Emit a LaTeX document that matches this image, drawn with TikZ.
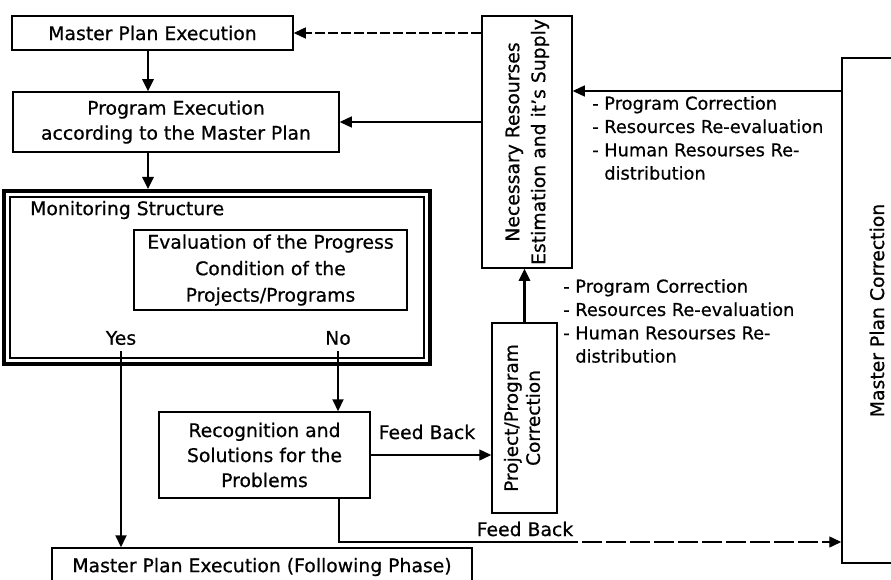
\documentclass[tikz,border=0pt]{standalone}
\usepackage{fontspec}
\setmainfont[FakeBold=0.6]{DejaVu Sans}
\usetikzlibrary{arrows.meta}
\begin{document}
\begin{tikzpicture}[x=1pt,y=-1pt,
  box/.style={draw, line width=1.5pt, inner sep=0pt, align=center, font=\fontsize{18.8}{25}\selectfont},
  tip/.style={-{Triangle[length=12pt,width=11pt]}},
  arr/.style={line width=1.4pt, tip},
  thickarr/.style={line width=2.6pt, tip},
  lbl/.style={inner sep=0pt, font=\fontsize{18.8}{25}\selectfont},
  lst/.style={inner sep=0pt, align=left, anchor=west, font=\fontsize{17.8}{23.3}\selectfont}]
\useasboundingbox (0,0) rectangle (891,580);
\fill[white] (0,0) rectangle (891,580);

% boxes
\node[box, minimum width=281pt, minimum height=34pt] (mpe) at (152.5,33) {Master Plan Execution};
\node[box, minimum width=326pt, minimum height=60pt] (pe) at (176,122) {Program Execution\\according to the Master Plan};
\node[draw, line width=4pt, minimum width=426pt, minimum height=173pt, inner sep=0pt] (mon) at (217,277.5) {};
\node[draw, line width=1.2pt, minimum width=414pt, minimum height=161pt, inner sep=0pt] (moni) at (mon.center) {};
\node[lbl, anchor=west] (monlbl) at (30,210) {Monitoring Structure};
\node[box, font=\fontsize{18.8}{26.5}\selectfont, minimum width=273pt, minimum height=80pt] (eval) at (270.5,270) {Evaluation of the Progress\\Condition of the\\Projects/Programs};
\node[lbl, inner ysep=6pt] (yes) at (121,338) {Yes};
\node[lbl, inner ysep=6pt] (no) at (338,338) {No};
\node[box, minimum width=211pt, minimum height=86pt] (rec) at (264.5,455) {Recognition and\\Solutions for the\\Problems};
\node[box, minimum width=420pt, minimum height=38pt] (fin) at (262,567) {Master Plan Execution (Following Phase)};
\node[box, minimum width=65pt, minimum height=190pt] (ppc) at (524.5,418)
  {\rotatebox{90}{\fontsize{18.5}{22}\selectfont\begin{tabular}{@{}c@{}}Project/Program\\Correction\end{tabular}}};
\node[box, minimum width=90pt, minimum height=252pt] (nec) at (527,142)
  {\rotatebox{90}{\fontsize{18.8}{26}\selectfont\begin{tabular}{@{}c@{}}Necessary Resourses\\Estimation and it's Supply\end{tabular}}};
\node[box, minimum width=70pt, minimum height=505pt] (mpc) at (877,310.5)
  {\rotatebox{90}{Master Plan Correction}};

% labels
\node[lst] (l1) at (592,138) {- Program Correction\\- Resources Re-evaluation\\- Human Resourses Re-\\\hphantom{- }distribution};
\node[lst] (l2) at (563,321) {- Program Correction\\- Resources Re-evaluation\\- Human Resourses Re-\\\hphantom{- }distribution};
\node[lbl] (fb1) at (427,432) {Feed Back};
\node[lbl] (fb2) at (525,529) {Feed Back};

% helper coordinates
\coordinate (c1) at (148,0);
\coordinate (r1) at (700,91);
\coordinate (f2) at (339,542);

% connectors
\draw[thickarr] (mpe.south -| c1) -- (pe.north -| c1);
\draw[thickarr] (pe.south -| c1) -- (mon.north -| c1);
\draw[arr, dash pattern=on 10pt off 3pt] (nec.west |- mpe) -- (mpe.east);
\draw[arr] (nec.west |- pe) -- (pe.east);
\draw[arr] (mpc.west |- r1) -- (nec.east |- r1);
\draw[thickarr] (ppc.north) -- (ppc.north |- nec.south);
\draw[line width=2pt, tip] (yes.south) -- (fin.north -| yes.south);
\draw[line width=2pt, tip] (no.south) -- (rec.north -| no.south);
\draw[arr] (rec.east) -- (rec.east -| ppc.west);
\draw[line width=1.4pt] (rec.south -| f2) -- (f2) -- (f2 -| ppc.east);
\draw[arr, dash pattern=on 20pt off 4pt] (f2 -| ppc.east) -- (f2 -| mpc.west);
\end{tikzpicture}
\end{document}
